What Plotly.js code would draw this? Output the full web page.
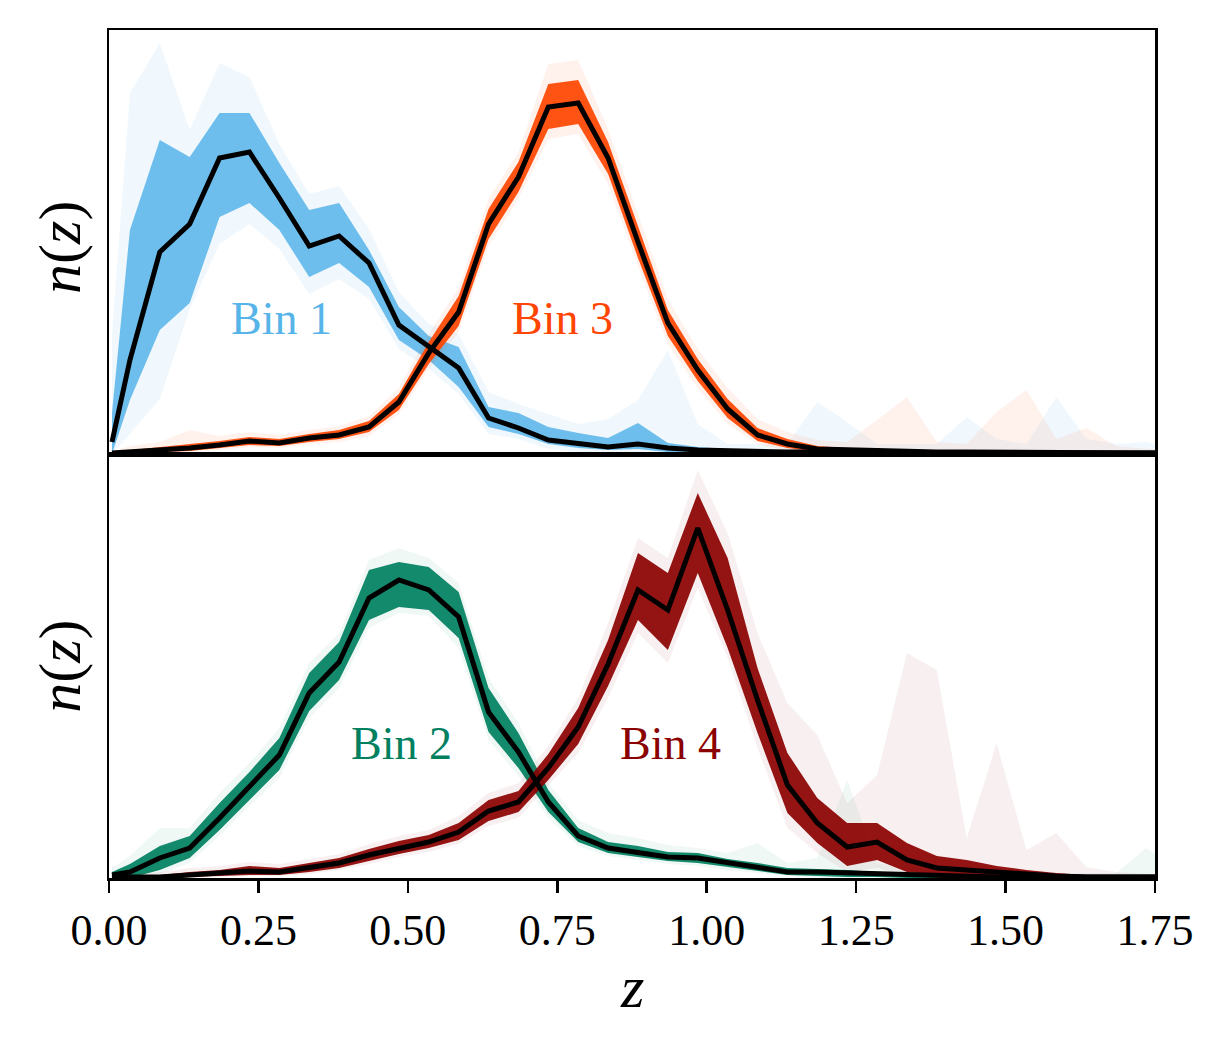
<!DOCTYPE html>
<html>
<head>
<meta charset="utf-8">
<script src="https://cdn.plot.ly/plotly-3.0.1.min.js"></script>
<style>
  body { margin: 0; background: #fff; }
  #myPlot { width: 1225px; height: 1051px; }
</style>
</head>
<body>
<div id="myPlot"></div>
<script>
// redshift grid
var zArray = [0.005, 0.035, 0.085, 0.135, 0.185, 0.235, 0.285, 0.335, 0.385, 0.435, 0.485, 0.535, 0.585, 0.635, 0.685, 0.735, 0.785, 0.835, 0.885, 0.935, 0.985, 1.035, 1.085, 1.135, 1.185, 1.235, 1.285, 1.335, 1.385, 1.435, 1.485, 1.535, 1.585, 1.635, 1.685, 1.735, 1.785];

// Bin 1 (top panel)
var bin1Mean = [0.12, 0.94, 2.02, 2.30, 2.96, 3.02, 2.56, 2.08, 2.18, 1.91, 1.29, 1.07, 0.86, 0.36, 0.26, 0.14, 0.10, 0.07, 0.10, 0.06, 0.04, 0.03, 0.02, 0.02, 0.02, 0.01, 0.01, 0.01, 0.01, 0.01, 0.01, 0.01, 0.01, 0.01, 0.01, 0.01, 0.01];
var bin1Hi = [0.41, 2.24, 3.14, 2.97, 3.41, 3.41, 2.91, 2.44, 2.51, 2.04, 1.47, 1.18, 1.07, 0.47, 0.41, 0.27, 0.21, 0.16, 0.31, 0.11, 0.07, 0.05, 0.04, 0.04, 0.05, 0.04, 0.03, 0.03, 0.03, 0.03, 0.03, 0.03, 0.03, 0.03, 0.03, 0.02, 0.02];
var bin1Lo = [0.00, 0.54, 1.24, 1.51, 2.37, 2.51, 2.24, 1.77, 1.91, 1.67, 1.14, 0.94, 0.67, 0.27, 0.20, 0.10, 0.06, 0.04, 0.05, 0.02, 0.01, 0, 0, 0, 0, 0, 0, 0, 0, 0, 0, 0, 0, 0, 0, 0, 0];
var bin1FaintHi = [1.20, 3.61, 4.11, 3.24, 3.91, 3.77, 3.10, 2.60, 2.68, 2.25, 1.62, 1.30, 1.20, 0.62, 0.50, 0.40, 0.30, 0.35, 0.54, 1.04, 0.30, 0.10, 0.10, 0.10, 0.52, 0.32, 0.10, 0.10, 0.10, 0.37, 0.15, 0.10, 0.57, 0.15, 0.10, 0.12, 0.05];
var bin1FaintLo = [0.00, 0.20, 0.55, 1.45, 2.10, 2.30, 2.05, 1.60, 1.75, 1.55, 1.05, 0.85, 0.60, 0.20, 0.15, 0.05, 0.02, 0, 0, 0, 0, 0, 0, 0, 0, 0, 0, 0, 0, 0, 0, 0, 0, 0, 0, 0, 0];

// Bin 3 (top panel)
var bin3Mean = [0.01, 0.02, 0.04, 0.06, 0.09, 0.13, 0.11, 0.16, 0.19, 0.27, 0.52, 1.01, 1.42, 2.30, 2.77, 3.47, 3.51, 2.96, 2.12, 1.31, 0.84, 0.45, 0.19, 0.10, 0.05, 0.04, 0.03, 0.02, 0.02, 0.02, 0.02, 0.02, 0.01, 0.01, 0.01, 0.01, 0.01];
var bin3Hi = [0.02, 0.04, 0.07, 0.10, 0.13, 0.17, 0.15, 0.20, 0.24, 0.33, 0.60, 1.12, 1.58, 2.45, 2.92, 3.70, 3.74, 3.12, 2.28, 1.44, 0.95, 0.55, 0.26, 0.15, 0.08, 0.06, 0.05, 0.04, 0.03, 0.03, 0.03, 0.03, 0.03, 0.02, 0.02, 0.02, 0.02];
var bin3Lo = [0.00, 0.01, 0.02, 0.03, 0.06, 0.09, 0.08, 0.12, 0.15, 0.22, 0.44, 0.90, 1.28, 2.15, 2.62, 3.25, 3.30, 2.80, 1.96, 1.18, 0.73, 0.36, 0.13, 0.06, 0.02, 0.01, 0.01, 0, 0, 0, 0, 0, 0, 0, 0, 0, 0];
var bin3FaintHi = [0.03, 0.08, 0.12, 0.24, 0.18, 0.22, 0.19, 0.24, 0.28, 0.38, 0.66, 1.20, 1.66, 2.55, 3.02, 3.90, 3.94, 3.25, 2.40, 1.55, 1.05, 0.66, 0.35, 0.22, 0.14, 0.12, 0.34, 0.57, 0.12, 0.10, 0.42, 0.64, 0.15, 0.26, 0.08, 0.05, 0.04];
var bin3FaintLo = [0, 0, 0.01, 0.02, 0.04, 0.07, 0.06, 0.10, 0.12, 0.18, 0.40, 0.85, 1.22, 2.08, 2.55, 3.15, 3.20, 2.70, 1.88, 1.10, 0.66, 0.30, 0.10, 0.03, 0, 0, 0, 0, 0, 0, 0, 0, 0, 0, 0, 0, 0];

// Bin 2 (bottom panel)
var bin2Mean = [0.03, 0.06, 0.20, 0.30, 0.60, 0.91, 1.23, 1.85, 2.16, 2.80, 2.98, 2.88, 2.61, 1.66, 1.26, 0.76, 0.42, 0.30, 0.26, 0.21, 0.20, 0.15, 0.11, 0.06, 0.06, 0.05, 0.04, 0.03, 0.02, 0.02, 0.01, 0.01, 0.01, 0.01, 0.01, 0.01, 0.01];
var bin2Hi = [0.06, 0.14, 0.32, 0.42, 0.75, 1.06, 1.40, 2.05, 2.36, 3.08, 3.16, 3.11, 2.86, 1.90, 1.45, 0.88, 0.50, 0.36, 0.32, 0.26, 0.25, 0.19, 0.15, 0.10, 0.09, 0.08, 0.06, 0.05, 0.04, 0.04, 0.03, 0.03, 0.03, 0.03, 0.03, 0.03, 0.03];
var bin2Lo = [0.00, 0.00, 0.08, 0.20, 0.48, 0.78, 1.08, 1.67, 1.98, 2.58, 2.71, 2.68, 2.40, 1.46, 1.10, 0.66, 0.36, 0.25, 0.21, 0.17, 0.15, 0.11, 0.07, 0.03, 0.02, 0.01, 0.01, 0, 0, 0, 0, 0, 0, 0, 0, 0, 0];
var bin2FaintHi = [0.10, 0.22, 0.50, 0.50, 0.85, 1.15, 1.50, 2.15, 2.45, 3.18, 3.30, 3.20, 2.95, 2.00, 1.55, 0.95, 0.58, 0.45, 0.40, 0.33, 0.30, 0.25, 0.35, 0.15, 0.20, 0.98, 0.15, 0.10, 0.08, 0.06, 0.05, 0.05, 0.05, 0.05, 0.05, 0.30, 0.10];
var bin2FaintLo = [0, 0, 0.04, 0.15, 0.42, 0.72, 1.00, 1.60, 1.90, 2.50, 2.65, 2.62, 2.30, 1.38, 1.02, 0.60, 0.32, 0.22, 0.18, 0.14, 0.12, 0.08, 0.05, 0.02, 0, 0, 0, 0, 0, 0, 0, 0, 0, 0, 0, 0, 0];

// Bin 4 (bottom panel)
var bin4Mean = [0.00, 0.01, 0.01, 0.03, 0.04, 0.07, 0.06, 0.10, 0.15, 0.23, 0.30, 0.36, 0.46, 0.67, 0.76, 1.10, 1.51, 2.14, 2.88, 2.68, 3.50, 2.68, 1.78, 0.93, 0.55, 0.31, 0.36, 0.18, 0.10, 0.08, 0.06, 0.03, 0.02, 0.01, 0.01, 0.01, 0.01];
var bin4Hi = [0.01, 0.02, 0.03, 0.06, 0.08, 0.12, 0.10, 0.15, 0.20, 0.29, 0.37, 0.43, 0.55, 0.78, 0.87, 1.24, 1.70, 2.38, 3.25, 3.05, 3.85, 3.20, 2.10, 1.25, 0.80, 0.55, 0.55, 0.35, 0.22, 0.18, 0.12, 0.08, 0.05, 0.03, 0.02, 0.02, 0.02];
var bin4Lo = [0.00, 0.00, 0.00, 0.01, 0.02, 0.03, 0.03, 0.06, 0.10, 0.17, 0.24, 0.30, 0.38, 0.57, 0.66, 0.98, 1.34, 1.92, 2.58, 2.28, 3.05, 2.30, 1.45, 0.65, 0.35, 0.12, 0.18, 0.06, 0.03, 0.02, 0.01, 0, 0, 0, 0, 0, 0];
var bin4FaintHi = [0.02, 0.04, 0.06, 0.10, 0.12, 0.16, 0.14, 0.19, 0.24, 0.34, 0.42, 0.48, 0.62, 0.85, 0.95, 1.32, 1.80, 2.55, 3.40, 3.20, 4.08, 3.45, 2.45, 1.75, 1.43, 0.75, 1.03, 2.25, 2.08, 0.40, 1.35, 0.28, 0.45, 0.11, 0.06, 0.04, 0.03];
var bin4FaintLo = [0, 0, 0, 0, 0.01, 0.02, 0.02, 0.04, 0.08, 0.14, 0.21, 0.26, 0.34, 0.52, 0.60, 0.92, 1.25, 1.80, 2.45, 2.15, 2.90, 2.20, 1.30, 0.50, 0.25, 0.06, 0.10, 0.02, 0, 0, 0, 0, 0, 0, 0, 0, 0];

var tickVals = [0, 0.25, 0.5, 0.75, 1.0, 1.25, 1.5, 1.75];
var tickText = ["0.00", "0.25", "0.50", "0.75", "1.00", "1.25", "1.50", "1.75"];

var serif = "Liberation Serif, Times New Roman, serif";

// filled band between two arrays
function band(lo, hi, rgb, alpha, xa, ya) {
  return [
    {x: zArray, y: lo, xaxis: xa, yaxis: ya, mode: "lines", line: {width: 0}, hoverinfo: "skip"},
    {x: zArray, y: hi, xaxis: xa, yaxis: ya, mode: "lines", line: {width: 0}, hoverinfo: "skip",
     fill: "tonexty", fillcolor: "rgba(" + rgb + "," + alpha + ")"}
  ];
}

function meanLine(y, xa, ya) {
  return {x: zArray, y: y, xaxis: xa, yaxis: ya, mode: "lines", line: {color: "black", width: 5}};
}

var blue = "86,180,233", orange = "255,69,0", green = "0,128,95", red = "139,0,0";

var data = [].concat(
  band(bin1FaintLo, bin1FaintHi, blue, 0.09, "x", "y"),
  band(bin1Lo, bin1Hi, blue, 0.85, "x", "y"),
  band(bin3FaintLo, bin3FaintHi, orange, 0.07, "x", "y"),
  band(bin3Lo, bin3Hi, orange, 0.92, "x", "y"),
  band(bin2FaintLo, bin2FaintHi, green, 0.06, "x2", "y2"),
  band(bin2Lo, bin2Hi, green, 0.92, "x2", "y2"),
  band(bin4FaintLo, bin4FaintHi, red, 0.06, "x2", "y2"),
  band(bin4Lo, bin4Hi, red, 0.92, "x2", "y2"),
  [meanLine(bin1Mean, "x", "y"), meanLine(bin3Mean, "x", "y"),
   meanLine(bin2Mean, "x2", "y2"), meanLine(bin4Mean, "x2", "y2")]
);

var frame = {showline: true, mirror: true, linecolor: "black", linewidth: 2.5, showgrid: false, zeroline: false};

var layout = {
  width: 1225,
  height: 1051,
  margin: {l: 109, r: 70, t: 30, b: 173},
  paper_bgcolor: "white",
  plot_bgcolor: "white",
  showlegend: false,
  font: {family: serif, color: "black"},
  xaxis: Object.assign({}, frame, {anchor: "y", domain: [0, 1], range: [0, 1.75], showticklabels: false, ticks: ""}),
  yaxis: Object.assign({}, frame, {domain: [0.5, 1], range: [0, 4.24], showticklabels: false, ticks: ""}),
  xaxis2: Object.assign({}, frame, {anchor: "y2", domain: [0, 1], range: [0, 1.75],
    tickmode: "array", tickvals: tickVals, ticktext: tickText,
    ticks: "outside", ticklen: 12, tickwidth: 2.5, tickcolor: "black",
    tickfont: {family: serif, size: 44, color: "black"}}),
  yaxis2: Object.assign({}, frame, {domain: [0, 0.5], range: [0, 4.24], showticklabels: false, ticks: ""}),
  annotations: [
    {text: "Bin 1", x: 0.289, y: 1.355, xref: "x", yref: "y", showarrow: false, font: {size: 46, color: "rgb(86,180,233)"}},
    {text: "Bin 3", x: 0.759, y: 1.355, xref: "x", yref: "y", showarrow: false, font: {size: 46, color: "rgb(255,69,0)"}},
    {text: "Bin 2", x: 0.489, y: 1.345, xref: "x2", yref: "y2", showarrow: false, font: {size: 46, color: "rgb(0,128,95)"}},
    {text: "Bin 4", x: 0.939, y: 1.345, xref: "x2", yref: "y2", showarrow: false, font: {size: 46, color: "rgb(139,0,0)"}},
    {text: "<i>n</i>(<i>z</i>)", x: -0.047, y: 0.744, xref: "paper", yref: "paper", textangle: -90,
     xanchor: "center", yanchor: "middle", showarrow: false, font: {size: 60}},
    {text: "<i>n</i>(<i>z</i>)", x: -0.047, y: 0.250, xref: "paper", yref: "paper", textangle: -90,
     xanchor: "center", yanchor: "middle", showarrow: false, font: {size: 60}},
    {text: "<i>z</i>", x: 0.5, y: -0.128, xref: "paper", yref: "paper",
     xanchor: "center", yanchor: "middle", showarrow: false, font: {size: 60}}
  ]
};

Plotly.newPlot("myPlot", data, layout, {displayModeBar: false, staticPlot: true});
</script>
</body>
</html>
